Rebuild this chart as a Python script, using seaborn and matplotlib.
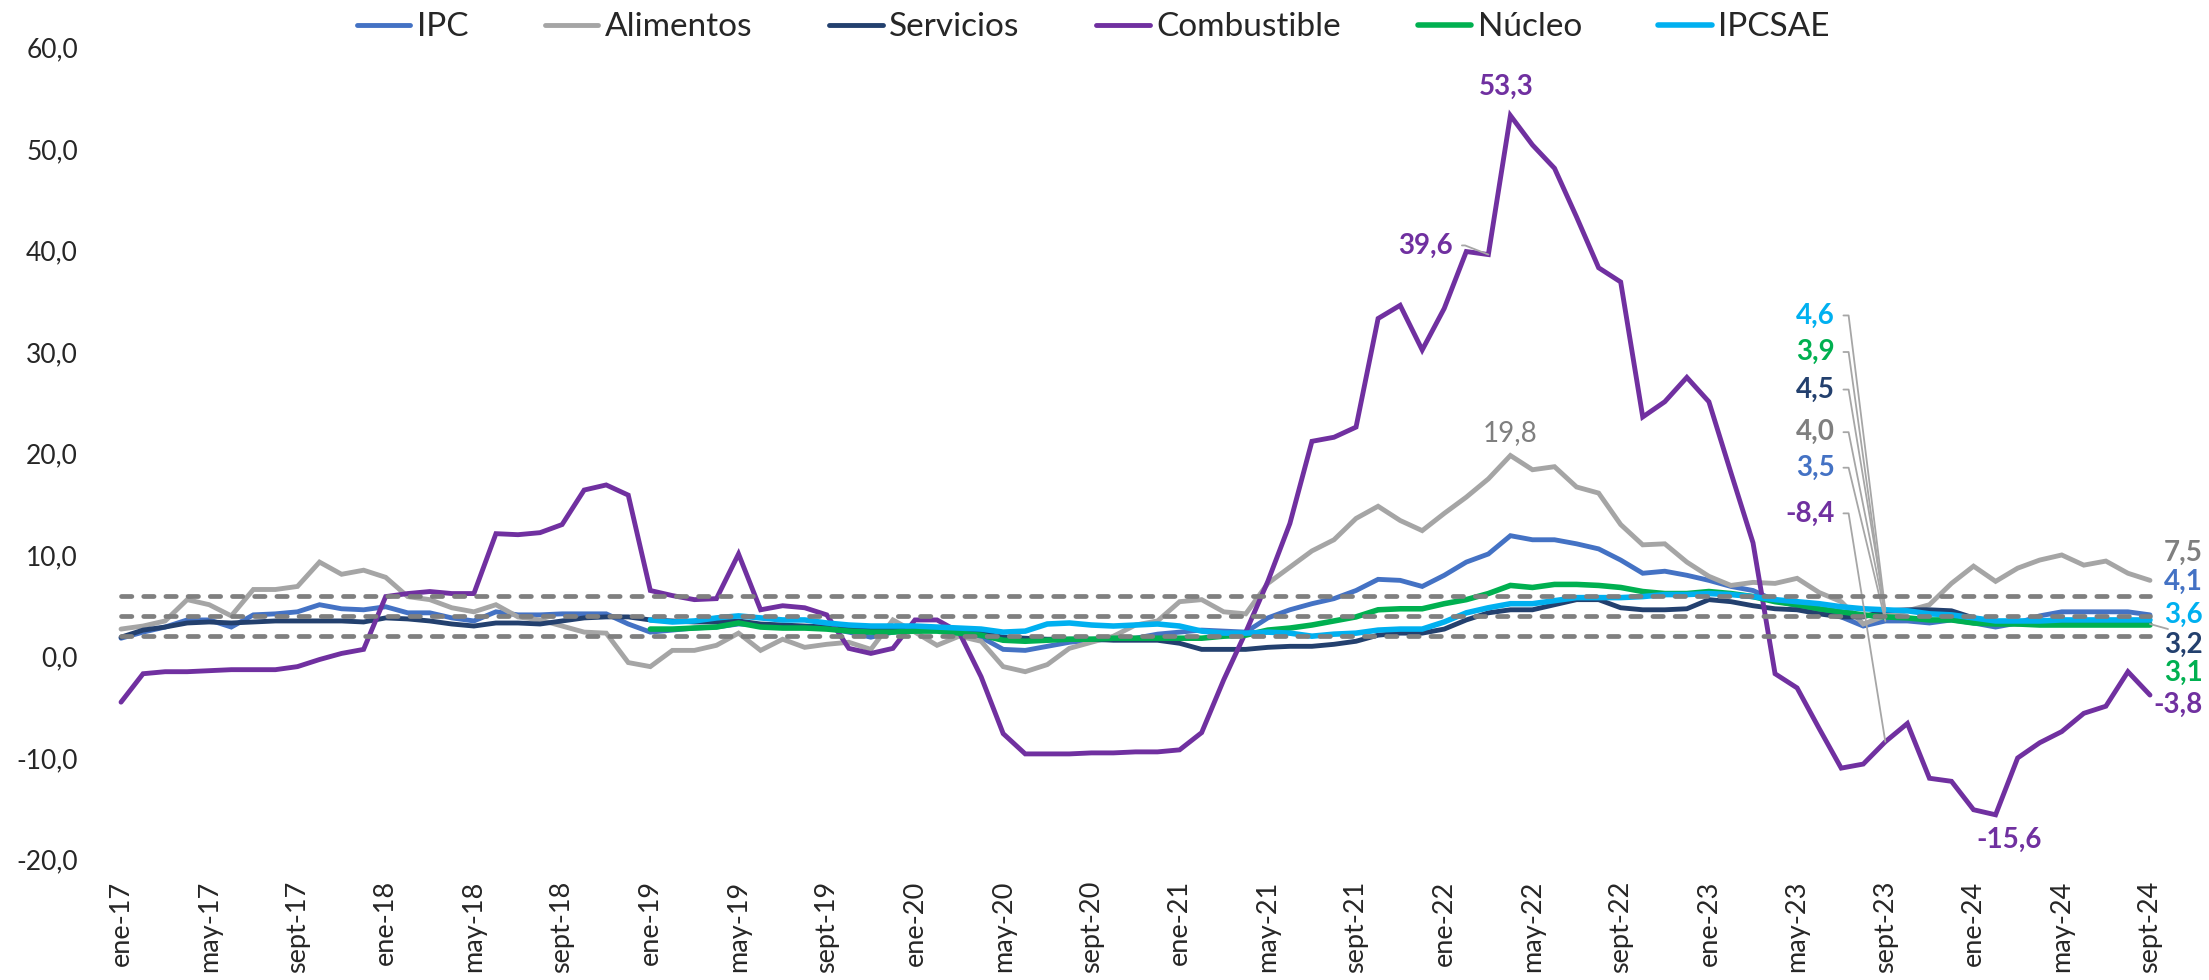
import numpy as np
import pandas as pd
import matplotlib
matplotlib.use('Agg')
import matplotlib.pyplot as plt
import seaborn as sns

sns.set_style('white')
plt.rcParams['font.family'] = ['Lato', 'DejaVu Sans']

# monthly year-on-year change, ene-17 .. sept-24
meses = ['ene', 'feb', 'mar', 'abr', 'may', 'jun', 'jul', 'ago', 'sept', 'oct', 'nov', 'dic']
anios = [17, 18, 19, 20, 21, 22, 23, 24]

ipc = [1.8, 2.4, 2.9, 3.6, 3.6, 2.9, 4.1, 4.2, 4.4, 5.1, 4.7, 4.6,
       4.9, 4.3, 4.3, 3.8, 3.5, 4.4, 4.1, 4.1, 4.2, 4.2, 4.2, 3.2,
       2.4, 2.6, 2.8, 2.9, 3.2, 3.1, 3.0, 2.9, 2.8, 2.4, 1.9, 2.4,
       2.8, 2.6, 2.5, 1.9, 0.7, 0.6, 1.0, 1.4, 1.6, 1.7, 1.8, 2.2,
       2.4, 2.6, 2.5, 2.4, 3.8, 4.6, 5.2, 5.7, 6.5, 7.6, 7.5, 6.9,
       8.0, 9.3, 10.1, 11.9, 11.5, 11.5, 11.1, 10.6, 9.5, 8.2, 8.4, 8.0,
       7.5, 6.9, 6.5, 5.5, 5.0, 4.6, 3.9, 3.0, 3.5, 3.5, 3.3, 3.6,
       3.3, 2.9, 3.3, 4.0, 4.4, 4.4, 4.4, 4.4, 4.1]

alimentos = [2.7, 3.0, 3.5, 5.6, 5.1, 4.0, 6.6, 6.6, 6.9, 9.3, 8.1, 8.5,
             7.8, 5.9, 5.6, 4.8, 4.4, 5.1, 3.9, 3.6, 3.0, 2.4, 2.3, -0.6,
             -1.0, 0.6, 0.6, 1.1, 2.3, 0.6, 1.7, 0.9, 1.2, 1.4, 0.7, 3.6,
             2.4, 1.1, 2.0, 1.5, -1.0, -1.5, -0.8, 0.8, 1.4, 2.0, 3.1, 3.5,
             5.4, 5.6, 4.4, 4.2, 7.2, 8.8, 10.4, 11.5, 13.6, 14.8, 13.4, 12.4,
             14.1, 15.7, 17.5, 19.8, 18.4, 18.7, 16.7, 16.1, 13.0, 11.0, 11.1, 9.3,
             7.9, 7.0, 7.3, 7.2, 7.7, 6.3, 5.4, 3.2, 4.0, 4.5, 5.1, 7.2,
             8.9, 7.4, 8.7, 9.5, 10.0, 9.0, 9.4, 8.2, 7.5]

servicios = [1.9, 2.6, 2.9, 3.3, 3.4, 3.3, 3.4, 3.5, 3.5, 3.5, 3.5, 3.4,
             3.8, 3.7, 3.5, 3.2, 3.0, 3.3, 3.3, 3.2, 3.5, 3.8, 3.9, 3.9,
             3.6, 3.5, 3.4, 3.4, 3.5, 3.2, 3.1, 3.0, 2.9, 2.8, 2.7, 2.7,
             2.7, 2.6, 2.5, 2.3, 1.9, 1.8, 1.7, 1.7, 1.7, 1.6, 1.6, 1.6,
             1.3, 0.7, 0.7, 0.7, 0.9, 1.0, 1.0, 1.2, 1.5, 2.1, 2.3, 2.3,
             2.7, 3.6, 4.3, 4.6, 4.6, 5.1, 5.6, 5.6, 4.8, 4.6, 4.6, 4.7,
             5.6, 5.4, 5.0, 4.7, 4.6, 4.2, 3.9, 3.9, 4.5, 4.6, 4.6, 4.5,
             3.8, 3.4, 3.2, 3.3, 3.3, 3.2, 3.2, 3.2, 3.2]

combustible = [-4.5, -1.7, -1.5, -1.5, -1.4, -1.3, -1.3, -1.3, -1.0, -0.3, 0.3, 0.7,
               5.9, 6.2, 6.4, 6.2, 6.2, 12.1, 12.0, 12.2, 13.0, 16.4, 16.9, 15.9,
               6.5, 6.0, 5.6, 5.7, 10.1, 4.6, 5.0, 4.8, 4.1, 0.8, 0.3, 0.8,
               3.6, 3.6, 2.4, -2.0, -7.6, -9.6, -9.6, -9.6, -9.5, -9.5, -9.4, -9.4,
               -9.2, -7.5, -2.3, 2.4, 7.4, 13.1, 21.2, 21.6, 22.6, 33.3, 34.6, 30.2,
               34.3, 39.9, 39.6, 53.3, 50.4, 48.1, 43.3, 38.3, 36.9, 23.6, 25.1, 27.5,
               25.1, 18.1, 11.2, -1.7, -3.1, -7.1, -11.0, -10.6, -8.4, -6.6, -12.0, -12.3,
               -15.1, -15.6, -10.0, -8.5, -7.4, -5.6, -4.9, -1.5, -3.8]

# Nucleo and IPCSAE start in ene-19
inicio_nucleo = 24
nucleo = [2.7, 2.7, 2.8, 2.9, 3.3, 2.9, 2.8, 2.8, 2.7, 2.5, 2.4, 2.4,
          2.5, 2.5, 2.3, 2.1, 1.6, 1.5, 1.6, 1.7, 1.7, 1.8, 1.8, 1.8,
          1.8, 1.8, 2.0, 2.1, 2.6, 2.8, 3.1, 3.5, 3.9, 4.6, 4.7, 4.7,
          5.2, 5.6, 6.2, 7.0, 6.8, 7.1, 7.1, 7.0, 6.8, 6.4, 6.2, 6.2,
          6.4, 6.2, 5.9, 5.4, 5.1, 4.7, 4.4, 4.1, 3.9, 3.8, 3.6, 3.6,
          3.3, 3.2, 3.2, 3.1, 3.1, 3.1, 3.1, 3.1, 3.1]

ipcsae = [3.6, 3.4, 3.5, 3.8, 4.0, 3.8, 3.6, 3.6, 3.3, 3.1, 3.0, 3.0,
          3.0, 2.9, 2.8, 2.7, 2.4, 2.5, 3.2, 3.3, 3.1, 3.0, 3.1, 3.2,
          3.0, 2.5, 2.3, 2.3, 2.4, 2.3, 2.0, 2.2, 2.3, 2.6, 2.7, 2.7,
          3.4, 4.3, 4.8, 5.2, 5.2, 5.5, 5.8, 5.8, 5.8, 5.9, 6.1, 6.1,
          6.2, 6.1, 5.9, 5.6, 5.4, 5.2, 4.9, 4.7, 4.6, 4.5, 4.2, 4.1,
          3.8, 3.5, 3.5, 3.5, 3.6, 3.6, 3.6, 3.6, 3.6]

rango_meta = [2, 4, 6]

fechas = [f'{m}-{a}' for a in anios for m in meses][:len(ipc)]
t = np.arange(len(fechas))

series = [
    ('IPC', ipc, 0, '#4472C4', 3.5),
    ('Alimentos', alimentos, 0, '#A5A5A5', 3.5),
    ('Servicios', servicios, 0, '#23406E', 3.5),
    ('Combustible', combustible, 0, '#7030A0', 3.5),
    ('Núcleo', nucleo, inicio_nucleo, '#00B050', 4.0),
    ('IPCSAE', ipcsae, inicio_nucleo, '#00B0F0', 4.0),
]

fig = plt.figure(figsize=(22.09, 9.8), dpi=100)
ax = fig.add_axes([110 / 2209, 0.123, 2051 / 2209, 0.8285])

handles = []
for nombre, vals, ini, color, lw in series:
    df = pd.DataFrame({'t': t[ini:ini + len(vals)], 'v': vals})
    sns.lineplot(data=df, x='t', y='v', ax=ax, color=color, linewidth=lw,
                 label=nombre, legend=False, solid_joinstyle='miter')
    handles.append(ax.lines[-1])

ax.hlines(rango_meta, t[0], t[-1], colors='#7F7F7F', linewidth=3.4,
          linestyles=[(0, (2.2, 2.5))], capstyle='round', zorder=5)

ax.set_xlim(-0.5, len(t) - 0.5)
ax.set_ylim(-20, 60)
ax.set_yticks(np.arange(-20, 61, 10))
ax.set_yticklabels([f'{v:.1f}'.replace('.', ',') for v in np.arange(-20, 61, 10)])
ax.set_xticks(t[::4])
ax.set_xticklabels(fechas[::4], rotation=90)
ax.tick_params(axis='y', length=0, pad=23, labelsize=19)
ax.tick_params(axis='x', length=0, pad=15, labelsize=19.5)
ax.set_xlabel('')
ax.set_ylabel('')
for s in ax.spines.values():
    s.set_visible(False)

fig.legend(handles=handles, labels=[s[0] for s in series], loc='center',
           bbox_to_anchor=(0.495, 0.972), ncol=6, frameon=False, fontsize=24,
           handlelength=1.6, handletextpad=0.2, columnspacing=2.3)

etq = dict(fontsize=20, fontweight='bold', va='center')
gris = '#A6A6A6'

# peaks
ax.text(62.8, 56.1, '53,3', color='#7030A0', ha='center', **etq)
ax.annotate('39,6', xy=(62, 39.6), xytext=(60.4, 40.5), color='#7030A0', ha='right',
            arrowprops=dict(arrowstyle='-', color=gris, lw=1.3, relpos=(1, 0.5),
                            shrinkA=4, shrinkB=0,
                            connectionstyle='arc,angleA=0,armA=12,angleB=90,armB=0,rad=0'),
            **etq)
ax.text(63.0, 22.0, '19,8', color='#7F7F7F', ha='center', fontsize=20, va='center')
ax.text(85.6, -18.1, '-15,6', color='#7030A0', ha='center', **etq)

# sept-23 values
sep23 = 80
pila = [('4,6', ipcsae[sep23 - inicio_nucleo], 33.6, '#00B0F0'),
        ('3,9', nucleo[sep23 - inicio_nucleo], 30.0, '#00B050'),
        ('4,5', servicios[sep23], 26.3, '#23406E'),
        ('4,0', alimentos[sep23], 22.1, '#7F7F7F'),
        ('3,5', ipc[sep23], 18.6, '#4472C4'),
        ('-8,4', combustible[sep23], 14.1, '#7030A0')]
for txt, v, ytxt, c in pila:
    ax.annotate(txt, xy=(sep23, v), xytext=(77.7, ytxt), color=c, ha='right',
                arrowprops=dict(arrowstyle='-', color=gris, lw=1.3, relpos=(1, 0.5),
                                shrinkA=4, shrinkB=0,
                                connectionstyle='arc,angleA=0,armA=14,angleB=90,armB=0,rad=0'),
                **etq)

# last values
fin = [('7,5', 10.2, '#7F7F7F'), ('4,1', 7.4, '#4472C4'), ('3,6', 4.1, '#00B0F0'),
       ('3,2', 1.1, '#23406E'), ('3,1', -1.6, '#00B050'), ('-3,8', -4.8, '#7030A0')]
for txt, ytxt, c in fin:
    if txt == '3,2':
        ax.annotate(txt, xy=(t[-1], servicios[-1]), xytext=(94.4, ytxt), color=c, ha='right',
                    arrowprops=dict(arrowstyle='-', color=gris, lw=1.3, relpos=(0.4, 1),
                                    shrinkA=0, shrinkB=0), **etq)
    else:
        ax.text(94.4, ytxt, txt, color=c, ha='right', **etq)

fig.savefig('out.png', dpi=100)
